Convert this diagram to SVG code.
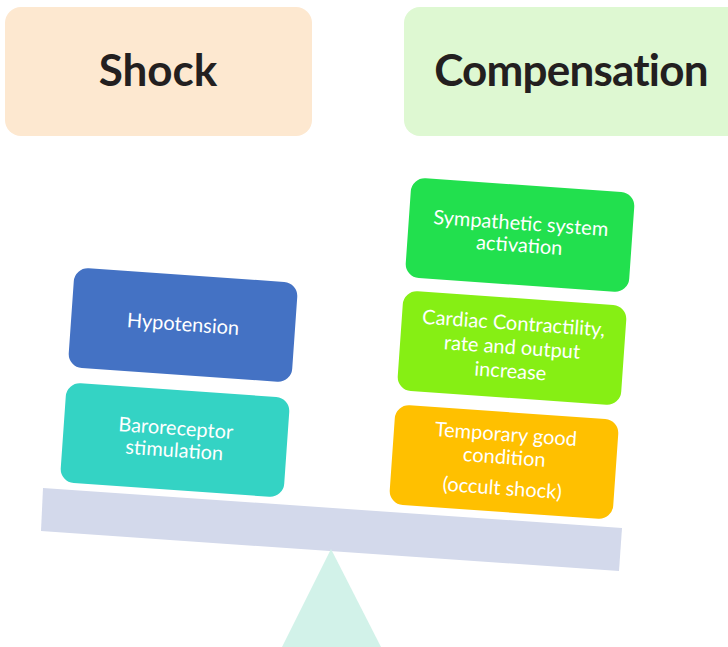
<svg xmlns="http://www.w3.org/2000/svg" width="728" height="647" viewBox="0 0 728 647">
<style>
.hdr{font-family:Lato,"Liberation Sans",sans-serif;font-weight:bold;font-size:44px;fill:#231f20;text-anchor:middle}
.lbl{font-family:Lato,"Liberation Sans",sans-serif;font-size:20px;fill:#ffffff;text-anchor:middle}
</style>
<rect width="728" height="647" fill="#ffffff"/>
<g id="shock-header">
<rect x="5" y="7" width="307" height="129" rx="16" fill="#fde8d0"/>
<text class="hdr" x="158" y="86">Shock</text>
</g>
<g id="compensation-header">
<rect x="404" y="7" width="340" height="129" rx="16" fill="#def8d2"/>
<text class="hdr" x="571" y="86" letter-spacing="-0.8">Compensation</text>
</g>
<g id="seesaw">
<polygon points="43,488 622,528 619,571 41,531" fill="#d3d9eb"/>
<polygon points="331,549 282,647 381,647" fill="#d2f2e9"/>
</g>
<g id="hypotension" transform="translate(183,325) rotate(4)">
<rect x="-112" y="-50" width="224" height="100" rx="14" fill="#4472c4"/>
<text class="lbl" x="0" y="6">Hypotension</text>
</g>
<g id="baroreceptor" transform="translate(175,440) rotate(4)">
<rect x="-112" y="-50" width="224" height="100" rx="14" fill="#34d3c4"/>
<text class="lbl" x="0" y="-5">Baroreceptor</text>
<text class="lbl" x="0" y="17">stimulation</text>
</g>
<g id="sympathetic" transform="translate(520,235) rotate(4)">
<rect x="-112" y="-50" width="224" height="100" rx="14" fill="#22e04e"/>
<text class="lbl" x="0" y="-5">Sympathetic system</text>
<text class="lbl" x="0" y="17">activation</text>
</g>
<g id="cardiac" transform="translate(512,348) rotate(4)">
<rect x="-112" y="-50" width="224" height="100" rx="14" fill="#86ef14"/>
<text class="lbl" x="0" y="-18">Cardiac Contractility,</text>
<text class="lbl" x="0" y="6">rate and output</text>
<text class="lbl" x="0" y="30">increase</text>
</g>
<g id="temporary" transform="translate(504,462) rotate(4)">
<rect x="-112" y="-50" width="224" height="100" rx="14" fill="#ffc000"/>
<text class="lbl" x="0" y="-21">Temporary good</text>
<text class="lbl" x="0" y="2">condition</text>
<text class="lbl" x="0" y="33">(occult shock)</text>
</g>
</svg>
